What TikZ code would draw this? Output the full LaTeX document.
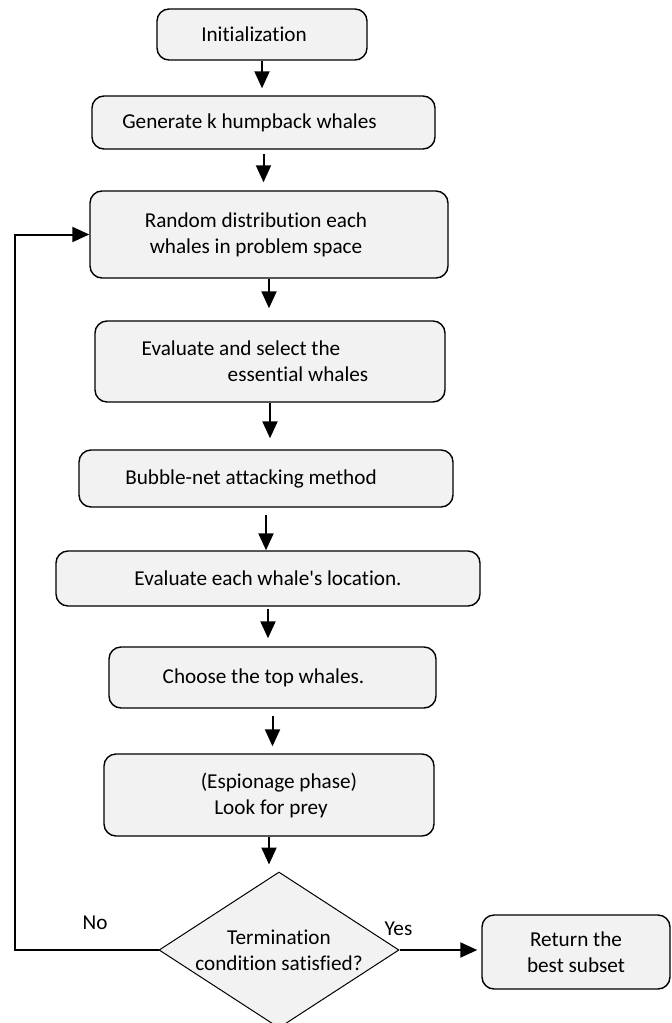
\documentclass[tikz,border=0pt]{standalone}
\usepackage{fontspec}
\setmainfont{Carlito}[Ligatures={NoCommon}]
\usetikzlibrary{arrows.meta, shapes.geometric}
\definecolor{boxfill}{HTML}{F2F2F2}

\begin{document}
\begin{tikzpicture}[x=0.5pt, y=-0.5pt,
  font=\fontsize{10.6pt}{13pt}\selectfont,
  >={Triangle[length=8.5pt, width=7.5pt]},
  stepbox/.style={draw=black, line width=0.7pt, fill=boxfill, rounded corners=6pt,
    inner sep=0pt, align=center},
  decision/.style={diamond, draw=black, line width=0.5pt, fill=boxfill, aspect=1.54,
    inner sep=0pt, minimum width=120pt, minimum height=78pt, align=center},
  flow/.style={->, line width=1pt}]

% Canvas: 671 x 1023, one unit = one pixel, y pointing down
\useasboundingbox (0,0) rectangle (671,1023);

% Main column of steps
\node[stepbox, minimum width=105pt, minimum height=25.5pt] (init) at (262,34.5)
  {Initialization\hspace*{8pt}};
\node[stepbox, minimum width=171.5pt, minimum height=26.5pt] (gen) at (263.5,122.5)
  {Generate k humpback whales\hspace*{14pt}};
\node[stepbox, minimum width=179pt, minimum height=43.5pt] (rand) at (269,234.5)
  {Random distribution each\hspace*{13pt}\\ whales in problem space\hspace*{13pt}};
\node[stepbox, minimum width=175pt, minimum height=40.5pt] (eval) at (270,361.5)
  {Evaluate and select the\hspace*{29pt}\\ \hspace*{28pt}essential whales};
\node[stepbox, minimum width=187pt, minimum height=28.5pt] (bubble) at (266,478.5)
  {Bubble-net attacking method\hspace*{15pt}};
\node[stepbox, minimum width=212pt, minimum height=27.5pt] (loc) at (268,578.5)
  {Evaluate each whale\textquotesingle s location.};
\node[stepbox, minimum width=163.5pt, minimum height=30.5pt] (top) at (272.5,677.5)
  {Choose the top whales.\hspace*{9pt}};
\node[stepbox, minimum width=165pt, minimum height=41pt] (spy) at (269,795)
  {\hspace*{10pt}(Espionage phase)\\ \hspace*{2pt}Look for prey};

% Decision and exit
\node[decision] (stop) at (279,950) {Termination\\ condition satisfied?};
\node[stepbox, minimum width=94pt, minimum height=37pt] (ret) at (576,952)
  {Return the\\ best subset};

% Downward arrows
\draw[flow, shorten >=3.5pt] (init.south) -- (init.south |- gen.north);
\draw[flow, shorten <=2pt, shorten >=4pt] (gen.south) -- (gen.south |- rand.north);
\draw[flow, shorten >=6pt] (rand.south) -- (rand.south |- eval.north);
\draw[flow, shorten >=5.5pt] (eval.south) -- (eval.south |- bubble.north);
\draw[flow, shorten <=3.5pt] (bubble.south) -- (bubble.south |- loc.north);
\draw[flow, shorten <=1pt, shorten >=4pt] (loc.south) -- (loc.south |- top.north);
\draw[flow, shorten <=3.5pt, shorten >=3.5pt] (top.south) -- (top.south |- spy.north);
\draw[flow, shorten >=3.5pt] (spy.south) -- (spy.south |- stop.north);

% Yes branch
\draw[flow, shorten >=2pt] (stop.east) -- (stop.east -| ret.west);
\node (yes) at (398.5,929) {Yes};

% No branch, back to the distribution step
\coordinate (back) at (15,950);
\draw[flow] (stop.west) -- (back) |- (rand.west);
\node (no) at (95,923) {No};

\end{tikzpicture}
\end{document}
